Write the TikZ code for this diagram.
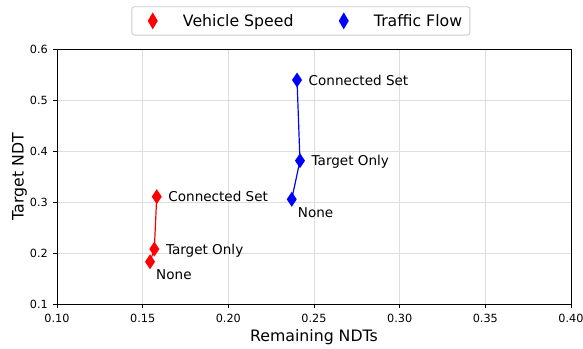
\documentclass[tikz,border=0pt]{standalone}
\usepackage{fontspec}
\setmainfont{DejaVu Sans}
\usepackage{tikz}
\usetikzlibrary{positioning, shapes.geometric}
\definecolor{GridGray}{RGB}{221,221,221}
\definecolor{LegendBorder}{RGB}{204,204,204}
\definecolor{SpeedRed}{RGB}{255,0,0}
\definecolor{FlowBlue}{RGB}{0,0,255}
\tikzset{
  % Diamond markers
  vsmarker/.style={
    diamond,
    fill=SpeedRed,
    inner sep=0pt,
    outer sep=0pt,
    minimum width=10bp,
    minimum height=15bp
  },
  tfmarker/.style={vsmarker, fill=FlowBlue},
  % Bigger markers for the legend
  lgmarker/.style={minimum height=17bp},
  % Data lines
  vsline/.style={draw=SpeedRed, line width=1.2bp},
  tfline/.style={draw=FlowBlue, line width=1.2bp},
  % Axes
  gridline/.style={draw=GridGray, line width=0.9bp},
  axisline/.style={draw=black, line width=0.9bp},
  ticklabel/.style={
    inner sep=0pt,
    font=\fontsize{11.3}{13.6}\selectfont
  },
  axislabel/.style={
    inner sep=0pt,
    text depth=0pt,
    font=\fontsize{15.8}{19}\selectfont
  },
  % Point labels
  ptlabel/.style={
    inner sep=0pt,
    text depth=0pt,
    font=\fontsize{13.6}{16}\selectfont
  },
  % Legend
  legendbox/.style={
    draw=LegendBorder,
    fill=white,
    rounded corners=2.5bp,
    line width=0.9bp,
    minimum width=338bp,
    minimum height=28.3bp
  },
  legendtext/.style={
    inner sep=0pt,
    text depth=0pt,
    font=\fontsize{15.8}{19}\selectfont
  }
}

\begin{document}
\begin{tikzpicture}[x=1bp, y=1bp]
  \useasboundingbox (0,0) rectangle (583,348);
  % Data area
  \begin{scope}[x=1713.33bp, y=510bp, shift={(-114.33bp,-7bp)}]
    % Grid and ticks
    \foreach \x [count=\i] in {0.10,0.15,0.20,0.25,0.30,0.35,0.40} {
      \draw[gridline] (\x,0.1) -- (\x,0.6);
      \draw[axisline] (\x,0.1) -- ++(0,-4bp);
      \node[ticklabel, anchor=base, yshift=-18.7bp] (xt\i) at (\x,0.1) {\x};
    }
    \foreach \y [count=\i] in {0.1,0.2,0.3,0.4,0.5,0.6} {
      \draw[gridline] (0.1,\y) -- (0.4,\y);
      \draw[axisline] (0.1,\y) -- ++(-4bp,0);
      \node[ticklabel, anchor=east, xshift=-9bp] (yt\i) at (0.1,\y) {\y};
    }
    \draw[axisline] (0.1,0.1) rectangle (0.4,0.6);
    % Vehicle speed points
    \coordinate (vs1) at (0.1543,0.1829);
    \coordinate (vs2) at (0.1568,0.2078);
    \coordinate (vs3) at (0.1582,0.3104);
    % Traffic flow points
    \coordinate (tf1) at (0.2370,0.3053);
    \coordinate (tf2) at (0.2418,0.3810);
    \coordinate (tf3) at (0.2401,0.5392);
    \draw[vsline] (vs1) -- (vs2) -- (vs3);
    \draw[tfline] (tf1) -- (tf2) -- (tf3);
    \foreach \k in {1,2,3} {
      \node[vsmarker] (vsm\k) at (vs\k) {};
      \node[tfmarker] (tfm\k) at (tf\k) {};
    }
    % Point labels
    \node[ptlabel, below right=7.5bp and 6bp of vsm1.center] (vsl1) {None};
    \node[ptlabel, right=11.5bp of vsm2.center] (vsl2) {Target Only};
    \node[ptlabel, right=11.5bp of vsm3.center] (vsl3) {Connected Set};
    \node[ptlabel, below right=8bp and 6bp of tfm1.center] (tfl1) {None};
    \node[ptlabel, right=11.5bp of tfm2.center] (tfl2) {Target Only};
    \node[ptlabel, right=11.5bp of tfm3.center] (tfl3) {Connected Set};
  \end{scope}
  % Axis labels
  \node[axislabel, anchor=base] (xlab) at (314,6.3) {Remaining NDTs};
  \node[axislabel, rotate=90] (ylab) at (18,171.5) {Target NDT};
  % Legend
  \node[legendbox] (legend) at (300.9,327.1) {};
  \node[vsmarker, lgmarker] (lgvs) at ([xshift=21.3bp]legend.west) {};
  \node[legendtext, right=30bp of lgvs.center] (lgvstext) {Vehicle Speed};
  \node[tfmarker, lgmarker] (lgtf) at ([xshift=212.3bp]legend.west) {};
  \node[legendtext, right=30bp of lgtf.center] (lgtftext) {Traffic Flow};
\end{tikzpicture}
\end{document}
